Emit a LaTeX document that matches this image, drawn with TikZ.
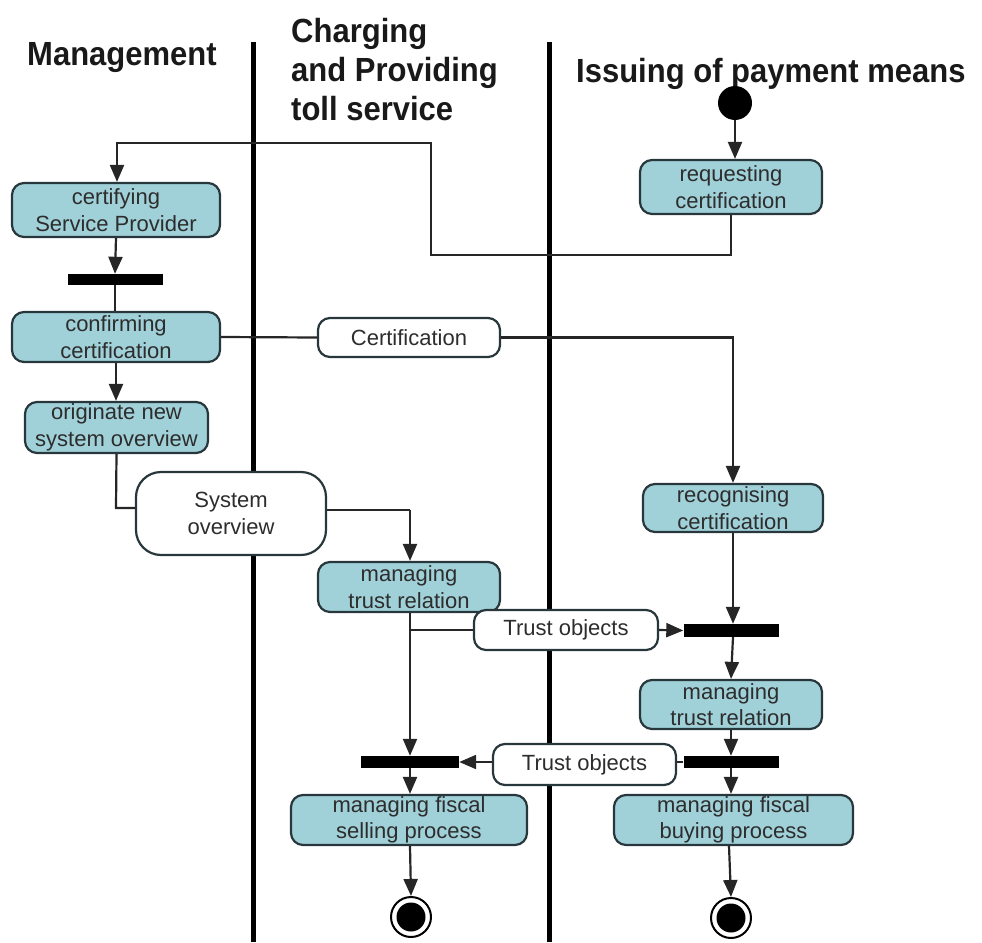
\documentclass[tikz,border=0pt]{standalone}
\usepackage{fontspec}
\setmainfont{Liberation Sans}
\usetikzlibrary{arrows.meta}
\definecolor{actfill}{RGB}{160,208,216}
\definecolor{edgec}{RGB}{40,55,60}
\definecolor{txtc}{RGB}{45,45,45}
\begin{document}
\begin{tikzpicture}[x=1pt,y=-1pt,
 act/.style={draw=edgec, line width=2.2pt, fill=actfill, rounded corners=12pt, inner sep=0pt, align=center, font=\fontsize{22}{26.5}\selectfont, text=txtc},
 obj/.style={draw=edgec, line width=2.2pt, fill=white, rounded corners=12pt, inner sep=0pt, align=center, font=\fontsize{22}{26.5}\selectfont, text=txtc},
 syncbar/.style={fill=black, inner sep=0pt},
 flow/.style={line width=2.2pt, draw=black!85},
 arr/.style={flow, -{Triangle[length=17pt,width=14pt]}},
 lane/.style={line width=5pt},
 head/.style={font=\fontsize{31}{36}\selectfont\bfseries, inner sep=0pt, text=black!90, yscale=1.08, transform shape}
]
\useasboundingbox (0,0) rectangle (982,942);
% lanes
\coordinate (l1t) at (253,42); \coordinate (l1b) at (253,942);
\coordinate (l2t) at (549,42); \coordinate (l2b) at (549,942);
\draw[lane] (l1t) -- (l1b);
\draw[lane] (l2t) -- (l2b);
% headings
\node[head, anchor=base west] (hm) at (27,66) {Management};
\node[head, anchor=north west, align=left] (hc) at (291,18) {Charging\\and Providing\\toll service};
\node[head, anchor=base west] (hi) at (576,82) {Issuing of payment means};
% nodes
\node[circle, fill=black, minimum size=34pt, inner sep=0pt] (init) at (735,103) {};
\node[act, minimum width=182pt, minimum height=54pt] (req) at (731,187) {requesting\\certification};
\node[act, minimum width=208pt, minimum height=54pt] (cert) at (116,210) {certifying\\Service Provider};
\node[syncbar, minimum width=95pt, minimum height=11pt] (bar1) at (115,279.5) {};
\node[act, minimum width=208pt, minimum height=50pt] (conf) at (116,337) {confirming\\certification};
\node[act, minimum width=183pt, minimum height=51pt] (orig) at (116.5,427.5) {originate new\\system overview};
\node[obj, minimum width=190pt, minimum height=83pt, rounded corners=25pt] (sysov) at (231,513.5) {System\\overview};
\node[obj, minimum width=182pt, minimum height=39pt] (certobj) at (409,337.5) {Certification};
\node[act, minimum width=182pt, minimum height=50pt] (mtr1) at (409,587) {managing\\trust relation};
\node[act, minimum width=180pt, minimum height=48pt] (recog) at (733,508) {recognising\\certification};
\node[obj, minimum width=184pt, minimum height=40pt] (trust1) at (566,630) {Trust objects};
\node[syncbar, minimum width=95pt, minimum height=13pt] (barR1) at (731,630.5) {};
\node[act, minimum width=182pt, minimum height=49pt] (mtr2) at (731,704.5) {managing\\trust relation};
\node[syncbar, minimum width=95pt, minimum height=12pt] (barR2) at (731,762) {};
\node[obj, minimum width=183pt, minimum height=41pt] (trust2) at (584.5,764.5) {Trust objects};
\node[syncbar, minimum width=98pt, minimum height=12pt] (barL) at (410,762) {};
\node[act, minimum width=236pt, minimum height=50pt] (sell) at (409,820) {managing fiscal\\selling process};
\node[act, minimum width=239pt, minimum height=50pt] (buy) at (733.5,820) {managing fiscal\\buying process};
\node[circle, draw=black, line width=2pt, fill=white, minimum size=40pt, inner sep=0pt] (finL) at (411,917) {};
\node[circle, draw=black, line width=2pt, fill=white, minimum size=40pt, inner sep=0pt] (finR) at (731,918) {};
\fill[black] (finL) circle (14.5pt);
\fill[black] (finR) circle (14.5pt);
% connectors
\draw[arr] (init) -- (init |- req.north);
\draw[arr] (req.south) -- (731,255) -- (431,255) -- (431,143) -- (117,143) -- (117,0 |- cert.north);
\draw[arr] (cert.south) -- (115,0 |- bar1.north);
\draw[flow] (bar1.south) -- (115,0 |- conf.north);
\draw[arr] (conf.south) -- (116,0 |- orig.north);
\draw[flow] (conf.east) -- (certobj.west);
\draw[arr] (certobj.east) -- (733,337.5) -- (recog.north);
\draw[flow] (orig.south) -- (116,508) -- (sysov.west |- 0,508);
\draw[flow] (sysov.east |- 0,510) -- (410,510);
\draw[arr] (410,510) -- (410,0 |- mtr1.north);
\draw[arr] (recog.south) -- (733,0 |- barR1.north);
\draw[arr] (trust1.east) -- (barR1.west);
\draw[arr] (410,0 |- mtr1.south) -- (410,0 |- barL.north);
\draw[flow] (410,630) -- (trust1.west);
\draw[arr] (733,0 |- barR1.south) -- (731,0 |- mtr2.north);
\draw[arr] (731,0 |- mtr2.south) -- (731,0 |- barR2.north);
\draw[flow] (barR2.west) -- (trust2.east |- barR2.west);
\draw[arr] (trust2.west |- barL.east) -- (barL.east);
\draw[arr] (barL.south) -- (410,0 |- sell.north);
\draw[arr] (barR2.south) -- (731,0 |- buy.north);
\draw[arr] (410,0 |- sell.south) -- (finL.north);
\draw[arr] (729,0 |- buy.south) -- (finR.north);
\end{tikzpicture}
\end{document}
